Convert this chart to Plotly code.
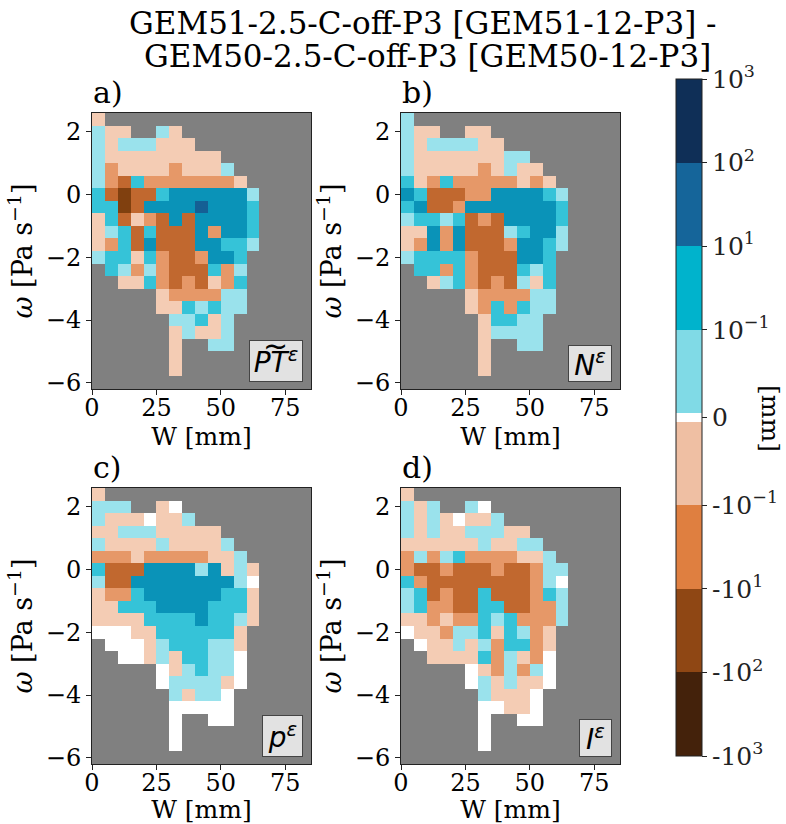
import plotly.graph_objects as go

_ = None
# Panel grids: rows from omega=2.4 downwards, columns from W=2.5 upwards.
# Values are colour-bin levels: +-1 (<10^-1), +-2, +-3, +-4; 0 is exact zero; None = no data
PT = [
 [-1],
 [1,-1,-1,_,_,1,-1],
 [1,-1,1,1,1,-1,-1,-1],
 [1,-1,-1,-1,-1,-1,-1,-1,-1,-1],
 [1,-2,-1,-1,-1,-1,-2,-1,-1,-1,1],
 [1,-2,-3,2,-2,-2,-2,-2,-2,-2,-2,-1],
 [2,-3,-4,-3,-3,2,3,3,3,3,3,3,1],
 [2,2,-4,-3,3,3,3,3,4,3,3,3,2],
 [-1,2,-3,-1,-2,-3,3,-3,3,3,3,3,2],
 [-1,1,2,-3,2,-3,-3,-3,3,-2,3,3,2],
 [-1,-2,2,-3,3,-3,-3,-3,3,3,2,2,1],
 [1,2,2,-1,2,-2,-3,-3,-2,3,3,2],
 [_,2,1,-2,1,-2,-3,-3,-3,2,-2,1],
 [_,_,-1,-1,2,-2,-3,-2,-3,-1,-2,2],
 [_,_,_,_,_,-1,-2,-2,-2,-2,1,1],
 [_,_,_,_,_,-1,-1,2,1,2,1,1],
 [_,_,_,_,_,_,1,1,2,-1,1],
 [_,_,_,_,_,_,-1,1,-1,-1,1],
 [_,_,_,_,_,_,-1,_,_,1,1],
 [_,_,_,_,_,_,-1],
 [_,_,_,_,_,_,-1],
 [],
]
N = [
 [1],
 [1,-1,-1,_,_,-1,-1],
 [1,-1,1,1,1,1,-1,-1],
 [1,-1,-1,-1,-1,-1,-1,-1,1,1],
 [1,-1,-1,-1,-1,-1,-2,-1,1,-1,-1],
 [2,-1,-2,2,-2,-2,-2,-2,-2,-1,-2,-1],
 [3,2,-3,-3,-3,-2,-2,3,3,3,3,2,1],
 [2,3,-3,-3,-2,3,3,3,3,3,3,3,2],
 [1,2,2,1,2,-3,-2,-3,3,3,3,3,2],
 [-1,-1,3,-2,3,-3,-3,-3,1,2,3,3,1],
 [-1,-2,3,-2,3,-3,-3,-3,-2,3,3,2,1],
 [1,2,2,2,2,-2,-3,-3,-3,3,3,2],
 [_,2,2,-2,2,-2,-3,-3,-3,2,1,2],
 [_,_,-1,1,2,-2,-3,-2,-3,1,-1,2],
 [_,_,_,_,_,-1,-2,-2,-2,-2,1,1],
 [_,_,_,_,_,-1,-2,2,-2,2,1,1],
 [_,_,_,_,_,_,-1,2,2,1,1],
 [_,_,_,_,_,_,-1,1,1,1,1],
 [_,_,_,_,_,_,-1,_,_,1,1],
 [_,_,_,_,_,_,-1],
 [_,_,_,_,_,_,-1],
 [],
]
P = [
 [-1],
 [1,1,1,_,_,-1,0],
 [1,-1,-1,-1,0,-1,-1,1],
 [-1,-1,1,1,1,-1,-1,-1,-1,-1],
 [1,-1,-1,-1,-1,1,-1,-1,-1,-1,1],
 [-2,-2,-2,-1,-2,-2,-2,-2,-2,-1,-1,1],
 [2,-3,-3,-3,3,3,3,3,1,3,-1,1,-1],
 [1,-3,-3,3,3,3,3,3,3,3,3,1,0],
 [-1,-2,-2,2,3,3,3,3,3,3,2,2,-1],
 [-1,-1,2,2,2,3,3,3,3,2,2,2,-1],
 [-1,-1,-1,-1,2,2,2,2,3,2,2,1,-1],
 [0,0,0,-1,-1,2,2,2,2,2,2,-1],
 [_,0,0,0,-1,1,2,2,2,1,1,-1],
 [_,_,0,0,-1,1,-1,2,2,1,1,0],
 [_,_,_,_,_,0,-1,1,2,1,1,0],
 [_,_,_,_,_,0,1,1,1,1,-1,0],
 [_,_,_,_,_,_,1,-1,1,1,0],
 [_,_,_,_,_,_,0,0,0,0,0],
 [_,_,_,_,_,_,0,_,_,0,0],
 [_,_,_,_,_,_,0],
 [_,_,_,_,_,_,0],
 [],
]
I = [
 [-1],
 [1,-1,1,_,_,1,0],
 [1,-1,1,-1,0,-1,-1,1],
 [1,-1,1,-1,-1,1,1,1,-1,-1],
 [-1,-1,-1,-1,-1,-1,1,-1,-1,1,1],
 [-2,1,-2,1,2,-2,-2,-2,-2,-1,-1,1],
 [-2,-3,-3,-2,-3,-3,-3,-2,-3,-3,-2,1,1],
 [2,-2,-3,-3,-3,-3,-3,-3,-3,-3,-2,1,0],
 [1,2,-3,-2,-3,-3,2,-3,-3,-3,-2,2,1],
 [1,2,-2,-2,-3,-3,2,2,-3,-3,-2,-2,1],
 [-1,-1,-2,-1,-2,-2,2,1,2,-2,-2,-2,1],
 [0,-1,-1,-2,1,1,2,-1,2,1,-2,-1],
 [_,0,-1,-1,1,-1,1,-2,2,2,-2,-1],
 [_,_,-1,-1,-1,-1,2,-2,1,-1,-2,0],
 [_,_,_,_,_,0,-1,-2,1,-2,1,0],
 [_,_,_,_,_,0,1,-1,1,-1,-1,0],
 [_,_,_,_,_,_,1,-1,-1,-1,0],
 [_,_,_,_,_,_,0,0,-1,-1,0],
 [_,_,_,_,_,_,0,_,_,0,0],
 [_,_,_,_,_,_,0],
 [_,_,_,_,_,_,0],
 [],
]
W_centres = [2.5, 7.5, 12.5, 17.5, 22.5, 27.5, 32.5, 37.5, 42.5, 47.5, 52.5, 57.5, 62.5, 67.5, 72.5, 77.5, 82.5]
OMEGA_centres = [2.4, 2.0, 1.6, 1.2, 0.8, 0.4, 0.0, -0.4, -0.8, -1.2, -1.6, -2.0, -2.4, -2.8, -3.2, -3.6, -4.0, -4.4, -4.8, -5.2, -5.6, -6.0]
PANEL_LETTERS = ["a)", "b)", "c)", "d)"]
PANEL_KEYS = ["<i>PT<sup>ε</sup></i>", "<i>N<sup>ε</sup></i>", "<i>p<sup>ε</sup></i>", "<i>I<sup>ε</sup></i>"]
CBAR_TICKS = ["10<sup>3</sup>", "10<sup>2</sup>", "10<sup>1</sup>", "10<sup>−1</sup>", "0",
              "-10<sup>−1</sup>", "-10<sup>1</sup>", "-10<sup>2</sup>", "-10<sup>3</sup>"]
CELL_COLOURS = ["#80400f", "#c1682f", "#e69868", "#f4ccb4", "#ffffff", "#9ae2ec", "#35c3d8", "#0a93b8", "#155f94"]
BAR_COLOURS = ["#44220b", "#8f4714", "#df7f40", "#efbfa3", "#ffffff", "#80dae6", "#00b3cc", "#15659a", "#0f2f57"]

W, H = 786, 824
SERIF = "DejaVu Serif, serif"
SANS = "DejaVu Sans, sans-serif"
GAP = 0.048
ZMAX = 4 + GAP


def stepped(colours, edges):
    lo, hi = edges[0], edges[-1]
    out = []
    for c, a, b in zip(colours, edges[:-1], edges[1:]):
        out.append([(a - lo) / (hi - lo), c])
        out.append([(b - lo) / (hi - lo), c])
    return out


edges = [-ZMAX, -3 - GAP, -2 - GAP, -1 - GAP, -GAP, GAP, 1 + GAP, 2 + GAP, 3 + GAP, ZMAX]
cell_scale = stepped(CELL_COLOURS, edges)
bar_scale = stepped(BAR_COLOURS, edges)

panels = [PT, N, P, I]
XPX = [(92, 311), (401, 620)]
YPX = [(113, 389), (488, 764)]
KEY_BOX = [(52, 40), (42, 35), (39, 40), (31, 36)]

fig = go.Figure()
layout = dict(
    width=W, height=H, autosize=False,
    margin=dict(l=0, r=0, t=0, b=0, autoexpand=False),
    paper_bgcolor="white", plot_bgcolor="#808080",
    font=dict(family=SERIF, size=24, color="black"),
    showlegend=False,
    coloraxis=dict(colorscale=cell_scale, cmin=-ZMAX, cmax=ZMAX, showscale=False),
    coloraxis2=dict(
        colorscale=bar_scale, cmin=-ZMAX, cmax=ZMAX, showscale=True,
        colorbar=dict(
            thickness=26, thicknessmode="pixels",
            len=677 / H, lenmode="fraction",
            x=676 / W, xanchor="left", xpad=0, xref="paper",
            y=(H - 756) / H, yanchor="bottom", ypad=0, yref="paper",
            outlinecolor="#222222", outlinewidth=1,
            ticks="outside", ticklen=5, tickwidth=1, tickcolor="#222222",
            tickmode="array",
            tickvals=[ZMAX, 3 + GAP, 2 + GAP, 1 + GAP, 0, -1 - GAP, -2 - GAP, -3 - GAP, -ZMAX],
            ticktext=CBAR_TICKS,
            tickfont=dict(family=SERIF, size=25, color="#222222"),
        ),
    ),
)
annots = []
for i, grid in enumerate(panels):
    ix, iy = i % 2, i // 2
    name = "" if i == 0 else str(i + 1)
    x0, x1 = XPX[ix]
    y0, y1 = YPX[iy]
    layout[f"xaxis{name}"] = dict(
        domain=[x0 / W, x1 / W], range=[0, 85], tickvals=[0, 25, 50, 75],
        ticks="outside", ticklen=5, tickwidth=1, tickcolor="#222222",
        showgrid=False, zeroline=False, showline=True, mirror=True,
        linecolor="#222222", linewidth=1, tickfont=dict(family=SERIF, size=24),
        ticklabelstandoff=-8,
        title=dict(text="W [mm]", font=dict(family=SERIF, size=25), standoff=0),
        anchor=f"y{name}",
    )
    layout[f"yaxis{name}"] = dict(
        domain=[(H - y1) / H, (H - y0) / H], range=[-6.2, 2.6], tickvals=[-6, -4, -2, 0, 2],
        ticktext=["−6", "−4", "−2", "0", "2"],
        ticks="outside", ticklen=5, tickwidth=1, tickcolor="#222222",
        showgrid=False, zeroline=False, showline=True, mirror=True,
        linecolor="#222222", linewidth=1, tickfont=dict(family=SERIF, size=24),
        title=dict(text="<i>ω</i> [Pa s<sup>−1</sup>]", font=dict(family=SERIF, size=27), standoff=5),
        anchor=f"x{name}",
    )
    z = [row + [None] * (len(W_centres) - len(row)) for row in grid]
    ax = dict(x=W_centres, y=OMEGA_centres, z=z, xaxis=f"x{name}", yaxis=f"y{name}",
              hoverongaps=False, xgap=0, ygap=0)
    if i == 0:
        # underlay carrying the colourbar with its own, deeper colours
        fig.add_trace(go.Heatmap(coloraxis="coloraxis2", **ax))
    fig.add_trace(go.Heatmap(coloraxis="coloraxis", **ax))
    annots.append(dict(xref="paper", yref="paper", x=x0 / W, y=(H - y0 + 2) / H,
                       xanchor="left", yanchor="bottom", text=PANEL_LETTERS[i], showarrow=False,
                       font=dict(family=SERIF, size=30), borderpad=0))
    bw, bh = KEY_BOX[i]
    annots.append(dict(xref="paper", yref="paper", x=(x1 - 8) / W, y=(H - y1 + 7) / H,
                       xanchor="right", yanchor="bottom", text=PANEL_KEYS[i], showarrow=False,
                       width=bw, height=bh, align="center", valign="middle",
                       font=dict(family=SANS, size=28, color="black"), bgcolor="#e2e2e2",
                       bordercolor="#444444", borderwidth=1, borderpad=0))

annots.append(dict(xref="paper", yref="paper", x=275 / W, y=(H - 345) / H, xanchor="center", yanchor="middle",
                   text="~", showarrow=False, font=dict(family=SANS, size=30)))
annots.append(dict(xref="paper", yref="paper", x=771 / W, y=(H - 418) / H, xanchor="center", yanchor="middle",
                   text="[mm]", textangle=90, showarrow=False, font=dict(family=SERIF, size=25)))
annots.append(dict(xref="paper", yref="paper", x=423 / W, y=(H - 23) / H, xanchor="center", yanchor="middle",
                   text="GEM51-2.5-C-off-P3 [GEM51-12-P3] -", showarrow=False, font=dict(family=SERIF, size=31)))
annots.append(dict(xref="paper", yref="paper", x=427 / W, y=(H - 56) / H, xanchor="center", yanchor="middle",
                   text="GEM50-2.5-C-off-P3 [GEM50-12-P3]", showarrow=False, font=dict(family=SERIF, size=31)))
layout["annotations"] = annots
fig.update_layout(**layout)
fig.write_html("out.html", post_script="document.body.style.margin='0';", config={"displayModeBar": False})
